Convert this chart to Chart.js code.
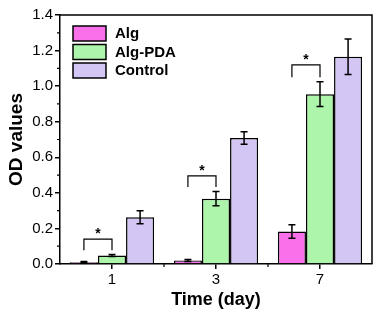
<!DOCTYPE html>
<html lang="en">
<head>
  <meta charset="UTF-8">
  <title>OD values</title>
  <script src="https://cdn.jsdelivr.net/npm/chart.js"></script>
  <style>
    html, body { margin: 0; padding: 0; background: #fff; }
    #wrap { width: 383px; height: 315px; }
  </style>
</head>
<body>
  <div id="wrap"><canvas id="odChart" width="383" height="315"></canvas></div>
  <script>
    const days = ["1", "3", "7"];
    const algValues = [0.01, 0.02, 0.183];
    const algErrors = [0.004, 0.006, 0.038];
    const pdaValues = [0.048, 0.367, 0.955];
    const pdaErrors = [0.006, 0.04, 0.07];
    const ctrlValues = [0.263, 0.708, 1.165];
    const ctrlErrors = [0.037, 0.035, 0.1];
    // significance brackets between Alg and Alg-PDA
    const sigTop = [0.14, 0.495, 1.12];
    const sigBottom = [0.078, 0.433, 1.05];
    const yTicks = [0, 0.2, 0.4, 0.6, 0.8, 1.0, 1.2, 1.4];

    const font = "'Liberation Sans', Arial, sans-serif";

    const extras = {
      id: 'extras',
      afterDatasetsDraw(chart) {
        const ctx = chart.ctx;
        const y = chart.scales.y;
        const x = chart.scales.x;
        const area = chart.chartArea;
        ctx.save();
        ctx.strokeStyle = '#000';
        ctx.fillStyle = '#000';
        ctx.lineWidth = 1.5;

        // error bars
        const errs = [algErrors, pdaErrors, ctrlErrors];
        chart.data.datasets.forEach((ds, di) => {
          chart.getDatasetMeta(di).data.forEach((bar, i) => {
            const v = ds.data[i], e = errs[di][i];
            const top = y.getPixelForValue(v + e), bot = y.getPixelForValue(v - e);
            ctx.beginPath();
            ctx.moveTo(bar.x, top); ctx.lineTo(bar.x, bot);
            ctx.moveTo(bar.x - 3.5, top); ctx.lineTo(bar.x + 3.5, top);
            ctx.moveTo(bar.x - 3.5, bot); ctx.lineTo(bar.x + 3.5, bot);
            ctx.stroke();
          });
        });

        // significance brackets
        const m0 = chart.getDatasetMeta(0).data, m1 = chart.getDatasetMeta(1).data;
        ctx.lineWidth = 1.2;
        ctx.font = 'bold 14px ' + font;
        ctx.textAlign = 'center';
        ctx.textBaseline = 'middle';
        days.forEach((d, i) => {
          const x0 = m0[i].x, x1 = m1[i].x;
          const t = y.getPixelForValue(sigTop[i]), b = y.getPixelForValue(sigBottom[i]);
          ctx.beginPath();
          ctx.moveTo(x0, b); ctx.lineTo(x0, t); ctx.lineTo(x1, t); ctx.lineTo(x1, b);
          ctx.stroke();
          ctx.fillText('*', (x0 + x1) / 2, t - 5);
        });

        // frame top and right
        ctx.lineWidth = 1.5;
        ctx.beginPath();
        ctx.moveTo(area.left, area.top); ctx.lineTo(area.right, area.top); ctx.lineTo(area.right, area.bottom);
        ctx.stroke();

        // minor ticks
        ctx.lineWidth = 1.2;
        ctx.beginPath();
        for (let k = 0; k < yTicks.length - 1; k++) {
          const py = y.getPixelForValue((yTicks[k] + yTicks[k + 1]) / 2);
          ctx.moveTo(area.left, py); ctx.lineTo(area.left - 3, py);
        }
        for (let k = 0; k < days.length - 1; k++) {
          const px = (x.getPixelForValue(k) + x.getPixelForValue(k + 1)) / 2;
          ctx.moveTo(px, area.bottom); ctx.lineTo(px, area.bottom + 3);
        }
        ctx.stroke();

        // legend
        ctx.font = 'bold 15px ' + font;
        ctx.textAlign = 'left';
        chart.data.datasets.forEach((ds, di) => {
          const ly = 26 + di * 18.5;
          ctx.fillStyle = ds.backgroundColor;
          ctx.fillRect(73, ly, 33, 15);
          ctx.lineWidth = 1.5;
          ctx.strokeRect(73, ly, 33, 15);
          ctx.fillStyle = '#000';
          ctx.fillText(ds.label, 115, ly + 8);
        });
        ctx.restore();
      }
    };

    new Chart(document.getElementById('odChart'), {
      type: 'bar',
      data: {
        labels: days,
        datasets: [
          { label: 'Alg', data: algValues, backgroundColor: '#fa70ea' },
          { label: 'Alg-PDA', data: pdaValues, backgroundColor: '#acf5aa' },
          { label: 'Control', data: ctrlValues, backgroundColor: '#d4c6f4' }
        ]
      },
      options: {
        responsive: false,
        animation: false,
        layout: { padding: { top: 15, right: 11 } },
        plugins: { legend: { display: false }, tooltip: { enabled: false } },
        datasets: {
          bar: { borderColor: '#000', borderWidth: 1.5, barPercentage: 1, categoryPercentage: 0.81 }
        },
        scales: {
          x: {
            offset: true,
            grid: { offset: false, drawOnChartArea: false, tickLength: 5, tickColor: '#000', lineWidth: 1.5 },
            border: { color: '#000', width: 1.5 },
            ticks: { color: '#000', font: { family: font, size: 15 }, padding: 2 },
            title: { display: true, text: 'Time (day)', color: '#000', font: { family: font, size: 18, weight: 'bold' }, padding: { top: 0 } },
            afterFit(s) { s.height = 51; }
          },
          y: {
            min: 0, max: 1.4,
            grid: { drawOnChartArea: false, tickLength: 5, tickColor: '#000', lineWidth: 1.5 },
            border: { color: '#000', width: 1.5 },
            afterBuildTicks(s) { s.ticks = yTicks.map(v => ({ value: v })); },
            ticks: { color: '#000', font: { family: font, size: 15 }, padding: 2, callback: v => v.toFixed(1) },
            title: { display: true, text: 'OD values', color: '#000', font: { family: font, size: 19, weight: 'bold' }, padding: { top: 5, bottom: 0 } },
            afterFit(s) { s.width = 60; }
          }
        }
      },
      plugins: [extras]
    });
  </script>
</body>
</html>
